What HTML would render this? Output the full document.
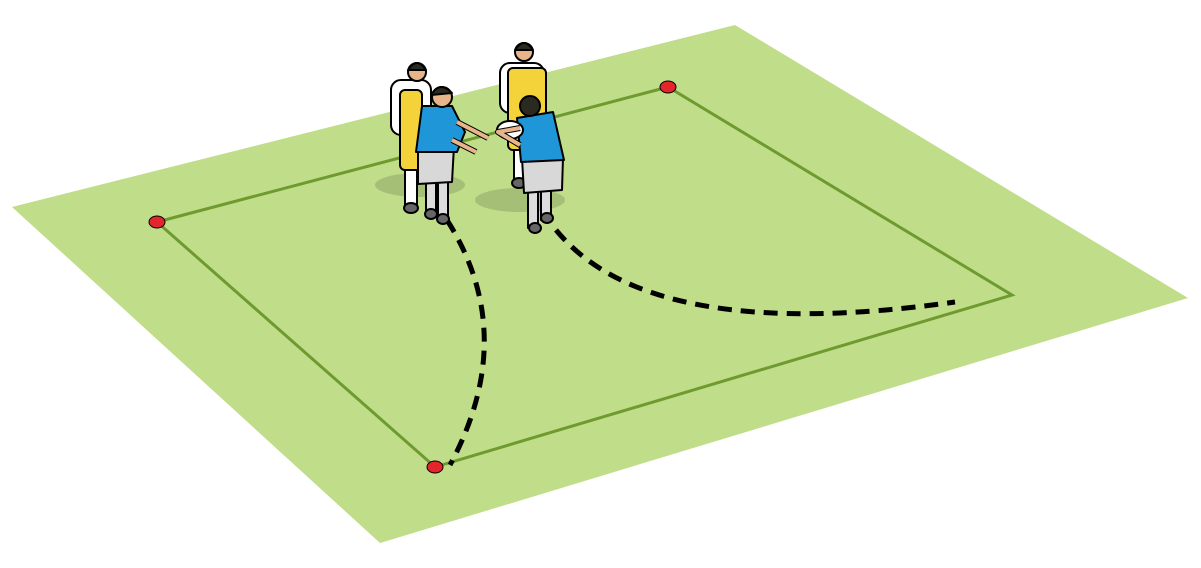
<!DOCTYPE html>
<html><head><meta charset="utf-8"><style>html,body{margin:0;padding:0;background:#fff;}svg{display:block}</style></head>
<body>
<svg width="1201" height="568" viewBox="0 0 1201 568" xmlns="http://www.w3.org/2000/svg">
<polygon points="12,207 735,25 1188,298 380,543" fill="#c0dd89"/>
<polygon points="157,222 668,87 1012,295 435,467" fill="none" stroke="#6e9a30" stroke-width="3"/>
<path d="M447,220 Q520,335 450,465" fill="none" stroke="#000" stroke-width="5" stroke-dasharray="14,9"/>
<path d="M556,230 Q650,345 955,302" fill="none" stroke="#000" stroke-width="5" stroke-dasharray="14,9"/>
<g stroke="#000" stroke-width="1">
<ellipse cx="157" cy="222" rx="8" ry="6" fill="#e3262b"/>
<ellipse cx="668" cy="87" rx="8" ry="6" fill="#e3262b"/>
<ellipse cx="435" cy="467" rx="8" ry="6" fill="#e3262b"/>
</g>
<ellipse cx="420" cy="185" rx="45" ry="12" fill="#9fb873" opacity="0.8"/>
<ellipse cx="520" cy="200" rx="45" ry="12" fill="#9fb873" opacity="0.8"/>
<g stroke="#000" stroke-width="2" stroke-linejoin="round">
<rect x="391" y="80" width="40" height="55" rx="10" fill="#fff"/>
<rect x="405" y="170" width="12" height="35" fill="#fff"/>
<ellipse cx="411" cy="208" rx="7" ry="5" fill="#666"/>
<circle cx="417" cy="72" r="9" fill="#e8b48a"/>
<path d="M408,70 Q417,56 426,70 Z" fill="#2a2a20"/>
<rect x="400" y="90" width="22" height="80" rx="5" fill="#f4d23a"/>
<rect x="500" y="63" width="44" height="50" rx="10" fill="#fff"/>
<rect x="514" y="150" width="12" height="35" fill="#fff"/>
<ellipse cx="519" cy="183" rx="7" ry="5" fill="#666"/>
<circle cx="524" cy="52" r="9" fill="#e8b48a"/>
<path d="M515,50 Q524,36 533,50 Z" fill="#2a2a20"/>
<rect x="508" y="68" width="38" height="82" rx="5" fill="#f4d23a"/>
<rect x="426" y="178" width="10" height="35" fill="#ddd"/>
<rect x="438" y="178" width="10" height="40" fill="#ddd"/>
<ellipse cx="431" cy="214" rx="6" ry="5" fill="#666"/>
<ellipse cx="443" cy="219" rx="6" ry="5" fill="#666"/>
<path d="M418,148 L454,146 L452,182 L418,184 Z" fill="#d8d8d8"/>
<path d="M422,106 L452,106 L465,132 L457,152 L416,152 Z" fill="#1e96d8"/>
<path d="M457,122 L488,138 M452,140 L476,152" stroke="#000" stroke-width="6" fill="none"/>
<path d="M457,122 L488,138 M452,140 L476,152" stroke="#e8b48a" stroke-width="4" fill="none"/>
<circle cx="442" cy="97" r="10" fill="#e8b48a"/>
<path d="M431,95 Q440,80 452,93 Z" fill="#2a2a20"/>
<rect x="528" y="188" width="10" height="40" fill="#ddd"/>
<rect x="541" y="188" width="10" height="32" fill="#ddd"/>
<ellipse cx="535" cy="228" rx="6" ry="5" fill="#666"/>
<ellipse cx="547" cy="218" rx="6" ry="5" fill="#666"/>
<path d="M522,158 L563,158 L562,190 L524,193 Z" fill="#d8d8d8"/>
<path d="M517,118 L553,112 L564,160 L521,162 Z" fill="#1e96d8"/>
<ellipse cx="510" cy="130" rx="13" ry="9" fill="#fff"/>
<path d="M520,128 L498,132 L520,145" stroke="#000" stroke-width="6" fill="none"/>
<path d="M520,128 L498,132 L520,145" stroke="#e8b48a" stroke-width="4" fill="none"/>
<circle cx="530" cy="106" r="10" fill="#2a2a20"/>
</g>
</svg>
</body></html>
